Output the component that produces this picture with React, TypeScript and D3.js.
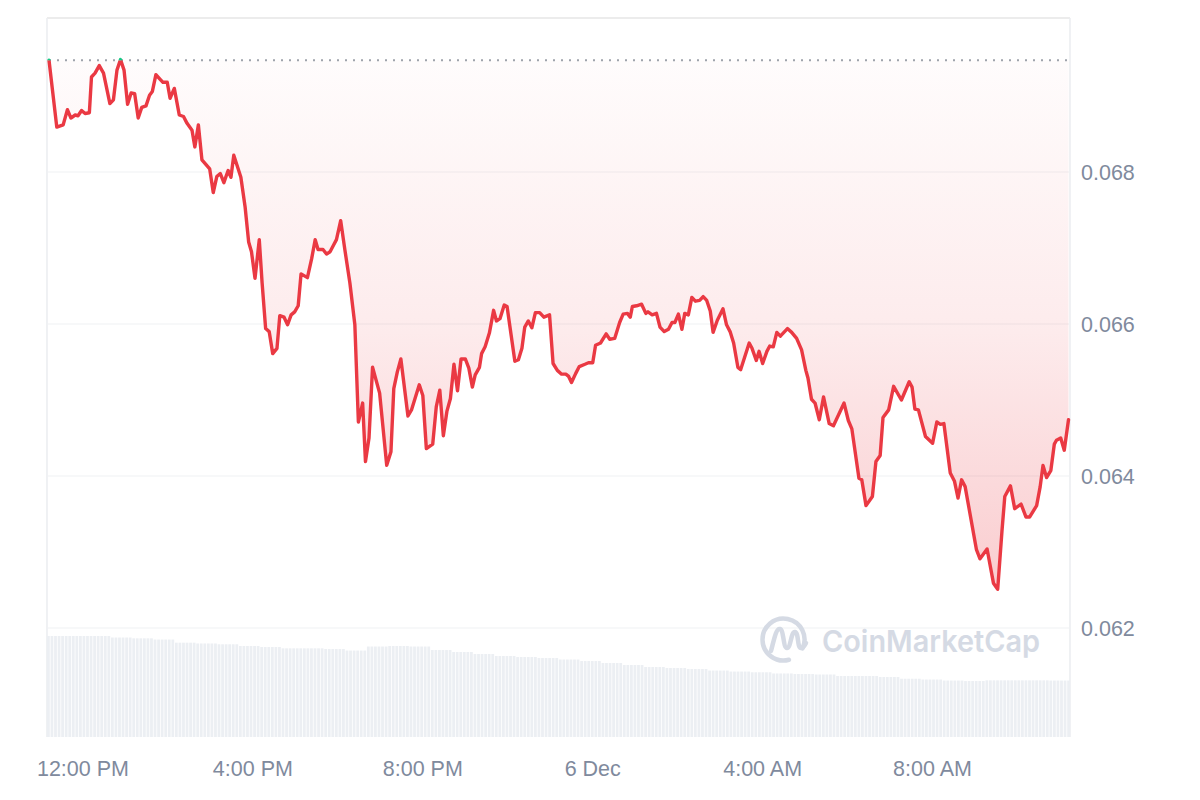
import React from "react";
import * as d3 from "d3";

// ---- Data ----
// minutes after 5 Dec 11:12 local time
const minutes = [
  0, 11, 20, 26, 31, 37, 41, 46, 51, 57, 60, 65, 71, 77, 86, 91, 96, 101, 106, 111,
  116, 121, 126, 131, 137, 142, 146, 151, 158, 161, 167, 171, 177, 184, 190, 195, 202, 206, 211, 216,
  227, 232, 237, 242, 247, 253, 257, 261, 271, 277, 282, 286, 291, 297, 301, 306, 311, 316, 322, 326,
  332, 337, 342, 347, 352, 356, 365, 371, 376, 380, 387, 392, 397, 402, 406, 412, 418, 425, 432, 437,
  443, 447, 452, 457, 467, 477, 483, 487, 492, 497, 507, 512, 523, 528, 533, 542, 547, 552, 557, 562,
  567, 572, 577, 582, 588, 593, 598, 602, 608, 611, 616, 622, 628, 632, 637, 643, 647, 658, 663, 668,
  672, 677, 682, 687, 693, 699, 707, 712, 718, 724, 730, 734, 738, 744, 749, 757, 762, 768, 772, 779,
  787, 792, 799, 806, 811, 817, 821, 824, 830, 837, 843, 846, 852, 858, 863, 869, 875, 880, 884, 889,
  894, 898, 903, 908, 913, 919, 924, 929, 934, 938, 944, 952, 957, 962, 967, 973, 977, 989, 993, 999,
  1003, 1008, 1014, 1018, 1023, 1028, 1033, 1037, 1043, 1049, 1056, 1063, 1069, 1072, 1077, 1082, 1088, 1094, 1102, 1108,
  1123, 1129, 1134, 1144, 1148, 1154, 1163, 1168, 1174, 1178, 1186, 1193, 1204, 1215, 1219, 1223, 1228, 1238, 1248, 1254,
  1259, 1264, 1273, 1279, 1284, 1289, 1294, 1310, 1315, 1325, 1334, 1340, 1346, 1350, 1358, 1364, 1373, 1380, 1385, 1395,
  1400, 1404, 1409, 1415, 1420, 1423, 1429, 1434, 1440,
];

const prices = [
  0.06947, 0.06859, 0.06862, 0.06882, 0.06871, 0.06875, 0.06874, 0.06881, 0.06877, 0.06878,
  0.06925, 0.0693, 0.0694, 0.0693, 0.0689, 0.06895, 0.06934, 0.06948, 0.06934, 0.06889,
  0.06904, 0.06903, 0.06871, 0.06885, 0.06887, 0.06901, 0.06906, 0.06928, 0.06921, 0.06918,
  0.06918, 0.06897, 0.0691, 0.06875, 0.06873, 0.06864, 0.06855, 0.06833, 0.06862, 0.06816,
  0.06804, 0.06773, 0.06794, 0.06798, 0.06786, 0.06802, 0.06793, 0.06822, 0.06793, 0.06754,
  0.06708, 0.06695, 0.0666, 0.06711, 0.06654, 0.06594, 0.0659, 0.06561, 0.06568, 0.06611,
  0.06609, 0.06599, 0.06612, 0.06616, 0.06624, 0.06666, 0.06661, 0.06686, 0.06711, 0.06698,
  0.06698, 0.06692, 0.06695, 0.06704, 0.06711, 0.06736, 0.06697, 0.06654, 0.06599, 0.06471,
  0.06496, 0.06419, 0.0645, 0.06543, 0.06509, 0.06414, 0.06432, 0.06515, 0.06537, 0.06554,
  0.06479, 0.06487, 0.0652, 0.06506, 0.06436, 0.06442, 0.06491, 0.06513, 0.06453, 0.06485,
  0.06502, 0.06547, 0.06512, 0.06554, 0.06554, 0.06542, 0.06517, 0.06533, 0.06543, 0.06561,
  0.0657, 0.06588, 0.06618, 0.06604, 0.06607, 0.06625, 0.06623, 0.06551, 0.06553, 0.06568,
  0.06596, 0.06604, 0.06595, 0.06615, 0.06615, 0.06609, 0.06612, 0.06548, 0.06539, 0.06534,
  0.06534, 0.06531, 0.06523, 0.06535, 0.06544, 0.06547, 0.06549, 0.06549, 0.06572, 0.06575,
  0.06587, 0.0658, 0.06581, 0.06602, 0.06613, 0.06614, 0.06609, 0.06623, 0.06624, 0.06626,
  0.06614, 0.06616, 0.06612, 0.06614, 0.06596, 0.0659, 0.06593, 0.06602, 0.06602, 0.06613,
  0.06593, 0.06614, 0.06612, 0.06635, 0.0663, 0.06631, 0.06636, 0.06631, 0.06617, 0.06589,
  0.06605, 0.0662, 0.06599, 0.0659, 0.06575, 0.06543, 0.0654, 0.06575, 0.06568, 0.06552,
  0.06564, 0.06548, 0.06564, 0.06571, 0.0657, 0.06589, 0.06584, 0.06588, 0.06594, 0.06589,
  0.06581, 0.06566, 0.06539, 0.06529, 0.06501, 0.06496, 0.06474, 0.06504, 0.06469, 0.06466,
  0.06496, 0.06473, 0.06462, 0.06397, 0.06395, 0.06361, 0.06373, 0.06419, 0.06427, 0.06477,
  0.06487, 0.06518, 0.065, 0.06524, 0.06517, 0.06488, 0.06487, 0.06452, 0.06443, 0.06471,
  0.06468, 0.06469, 0.06404, 0.06393, 0.06371, 0.06395, 0.06386, 0.06303, 0.06291, 0.06304,
  0.06259, 0.06251, 0.06327, 0.06373, 0.06387, 0.06357, 0.06363, 0.06346, 0.06346, 0.06361,
  0.06386, 0.06414, 0.06398, 0.06407, 0.06442, 0.06447, 0.0645, 0.06434, 0.06474,
];

// volume per half hour (arbitrary units, millions)
const volumeHalfHour = [
  100, 100, 100, 98.5, 97.7, 96.5, 93.4, 92.6, 91.8, 90.1, 89.1, 87.8,
  87.8, 87.1, 85.6, 89.6, 90.1, 89.6, 86.1, 84.2, 82.2, 80.2, 79.2, 78.2,
  76.7, 75.2, 73.3, 71.3, 69.3, 68.3, 67.3, 65.8, 64.8, 64.1, 62.9, 62.4,
  61.9, 60.4, 60.4, 59.4, 57.7, 56.9, 55.9, 55.4, 56.1, 56.1, 56.1, 55.9,
];

const yTicks = [0.062, 0.064, 0.066, 0.068];
const xTickHours = [12, 16, 20, 24, 28, 32];
const xTickLabels = ["12:00 PM", "4:00 PM", "8:00 PM", "6 Dec", "4:00 AM", "8:00 AM"];

const START = new Date(2024, 11, 5, 11, 12);
const DAY0 = new Date(2024, 11, 5, 0, 0);
const MIN = 60000;

export default function App() {
  const W = 1200;
  const H = 800;
  const left = 47;
  const right = 1070;
  const top = 18;
  const bottom = 737;

  const x = d3
    .scaleTime()
    .domain([START, new Date(START.getTime() + 1440 * MIN)])
    .range([49, 1068.5]);
  const y = d3.scaleLinear().domain([0.062, 0.068]).range([628, 172]);
  const yVol = d3.scaleLinear().domain([0, 100]).range([bottom, 636]);

  const data = minutes.map((m, i) => ({ t: new Date(START.getTime() + m * MIN), p: prices[i] }));
  const basePrice = prices[0];
  const yBase = y(basePrice);

  const line = d3
    .line<{ t: Date; p: number }>()
    .x((d) => x(d.t))
    .y((d) => y(d.p));
  const area = d3
    .area<{ t: Date; p: number }>()
    .x((d) => x(d.t))
    .y0(yBase)
    .y1((d) => y(d.p));

  const nBars = volumeHalfHour.length * 6;
  const bars = d3.range(nBars).map((i) => ({ i, v: volumeHalfHour[Math.floor(i / 6)] }));
  const band = d3.scaleBand<number>().domain(d3.range(nBars)).range([left, right]).paddingInner(0.22);

  const font = "'Liberation Sans', Arial, Helvetica, sans-serif";
  const labelColor = "#808a9d";
  const gridColor = "#eff1f3";

  return (
    <svg
      width={W}
      height={H}
      style={{ position: "absolute", left: 0, top: 0, background: "#fff" }}
      xmlns="http://www.w3.org/2000/svg"
    >
      <defs>
        <linearGradient id="redFill" gradientUnits="userSpaceOnUse" x1="0" y1={yBase} x2="0" y2={600}>
          <stop offset="0" stopColor="#ea3943" stopOpacity={0.015} />
          <stop offset="0.5" stopColor="#ea3943" stopOpacity={0.1} />
          <stop offset="1" stopColor="#ea3943" stopOpacity={0.26} />
        </linearGradient>
        <clipPath id="above">
          <rect x={0} y={0} width={W} height={yBase} />
        </clipPath>
        <clipPath id="below">
          <rect x={0} y={yBase} width={W} height={H - yBase} />
        </clipPath>
      </defs>

      {/* frame */}
      <line x1={left} x2={right} y1={top} y2={top} stroke="#ececec" strokeWidth={2} />
      <line x1={left} x2={left} y1={top} y2={bottom} stroke="#eceef1" strokeWidth={1.6} />
      <line x1={right} x2={right} y1={top} y2={bottom} stroke="#eceef1" strokeWidth={1.6} />

      {/* grid */}
      {yTicks.map((t) => (
        <line key={t} x1={left} x2={right} y1={y(t)} y2={y(t)} stroke={gridColor} strokeWidth={1.2} />
      ))}

      {/* volume bars */}
      <g>
        {bars.map((b) => (
          <rect
            key={b.i}
            x={band(b.i)}
            y={yVol(b.v)}
            width={band.bandwidth()}
            height={bottom - yVol(b.v)}
            fill="#eceff3"
          />
        ))}
      </g>

      {/* watermark */}
      <g opacity={0.95}>
        <path
          d={(() => {
            const cx = 783.5;
            const cy = 639.5;
            const r = 21;
            const a0 = (25 * Math.PI) / 180;
            const a1 = (75 * Math.PI) / 180;
            const p0 = [cx + r * Math.cos(a0), cy + r * Math.sin(a0)];
            const p1 = [cx + r * Math.cos(a1), cy + r * Math.sin(a1)];
            return `M${p1[0]},${p1[1]} A${r},${r} 0 1 1 ${p0[0]},${p0[1]}`;
          })()}
          fill="none"
          stroke="#d3d9e3"
          strokeWidth={4.5}
          strokeLinecap="round"
        />
        <path
          d="M771,651 C774,640 776,628 780,629 C784,630 783,648 787,648 C791,648 791,631 795,632 C799,633 797,648 801,648 C803,648 805,645 806,643"
          fill="none"
          stroke="#d3d9e3"
          strokeWidth={4.5}
          strokeLinecap="round"
          strokeLinejoin="round"
        />
        <text
          x={822}
          y={652}
          fontFamily="Inter, 'Open Sans', sans-serif"
          fontWeight={600}
          fontSize={30}
          fill="#d3d9e3"
          textLength={218}
          lengthAdjust="spacingAndGlyphs"
        >
          CoinMarketCap
        </text>
      </g>

      {/* area fill */}
      <path d={area(data) || ""} fill="url(#redFill)" stroke="none" />

      {/* baseline (opening price) */}
      <line
        x1={x(START)}
        x2={1068}
        y1={yBase}
        y2={yBase}
        stroke="#9ea3ab"
        strokeWidth={2}
        strokeDasharray="2,6"
      />

      {/* price line */}
      <path
        d={line(data) || ""}
        fill="none"
        stroke="#ea3943"
        strokeWidth={3.4}
        strokeLinejoin="round"
        strokeLinecap="round"
        clipPath="url(#below)"
      />
      <path
        d={line(data) || ""}
        fill="none"
        stroke="#16c784"
        strokeWidth={3.4}
        strokeLinejoin="round"
        strokeLinecap="round"
        clipPath="url(#above)"
      />

      {/* y axis labels */}
      {yTicks.map((t) => (
        <text key={t} x={1081} y={y(t) + 8} fontFamily={font} fontSize={21.5} fill={labelColor}>
          {d3.format(".3f")(t)}
        </text>
      ))}

      {/* x axis labels */}
      {xTickHours.map((h, i) => (
        <text
          key={h}
          x={x(new Date(DAY0.getTime() + h * 60 * MIN))}
          y={776}
          fontFamily={font}
          fontSize={21.5}
          fill={labelColor}
          textAnchor="middle"
        >
          {xTickLabels[i]}
        </text>
      ))}
    </svg>
  );
}
